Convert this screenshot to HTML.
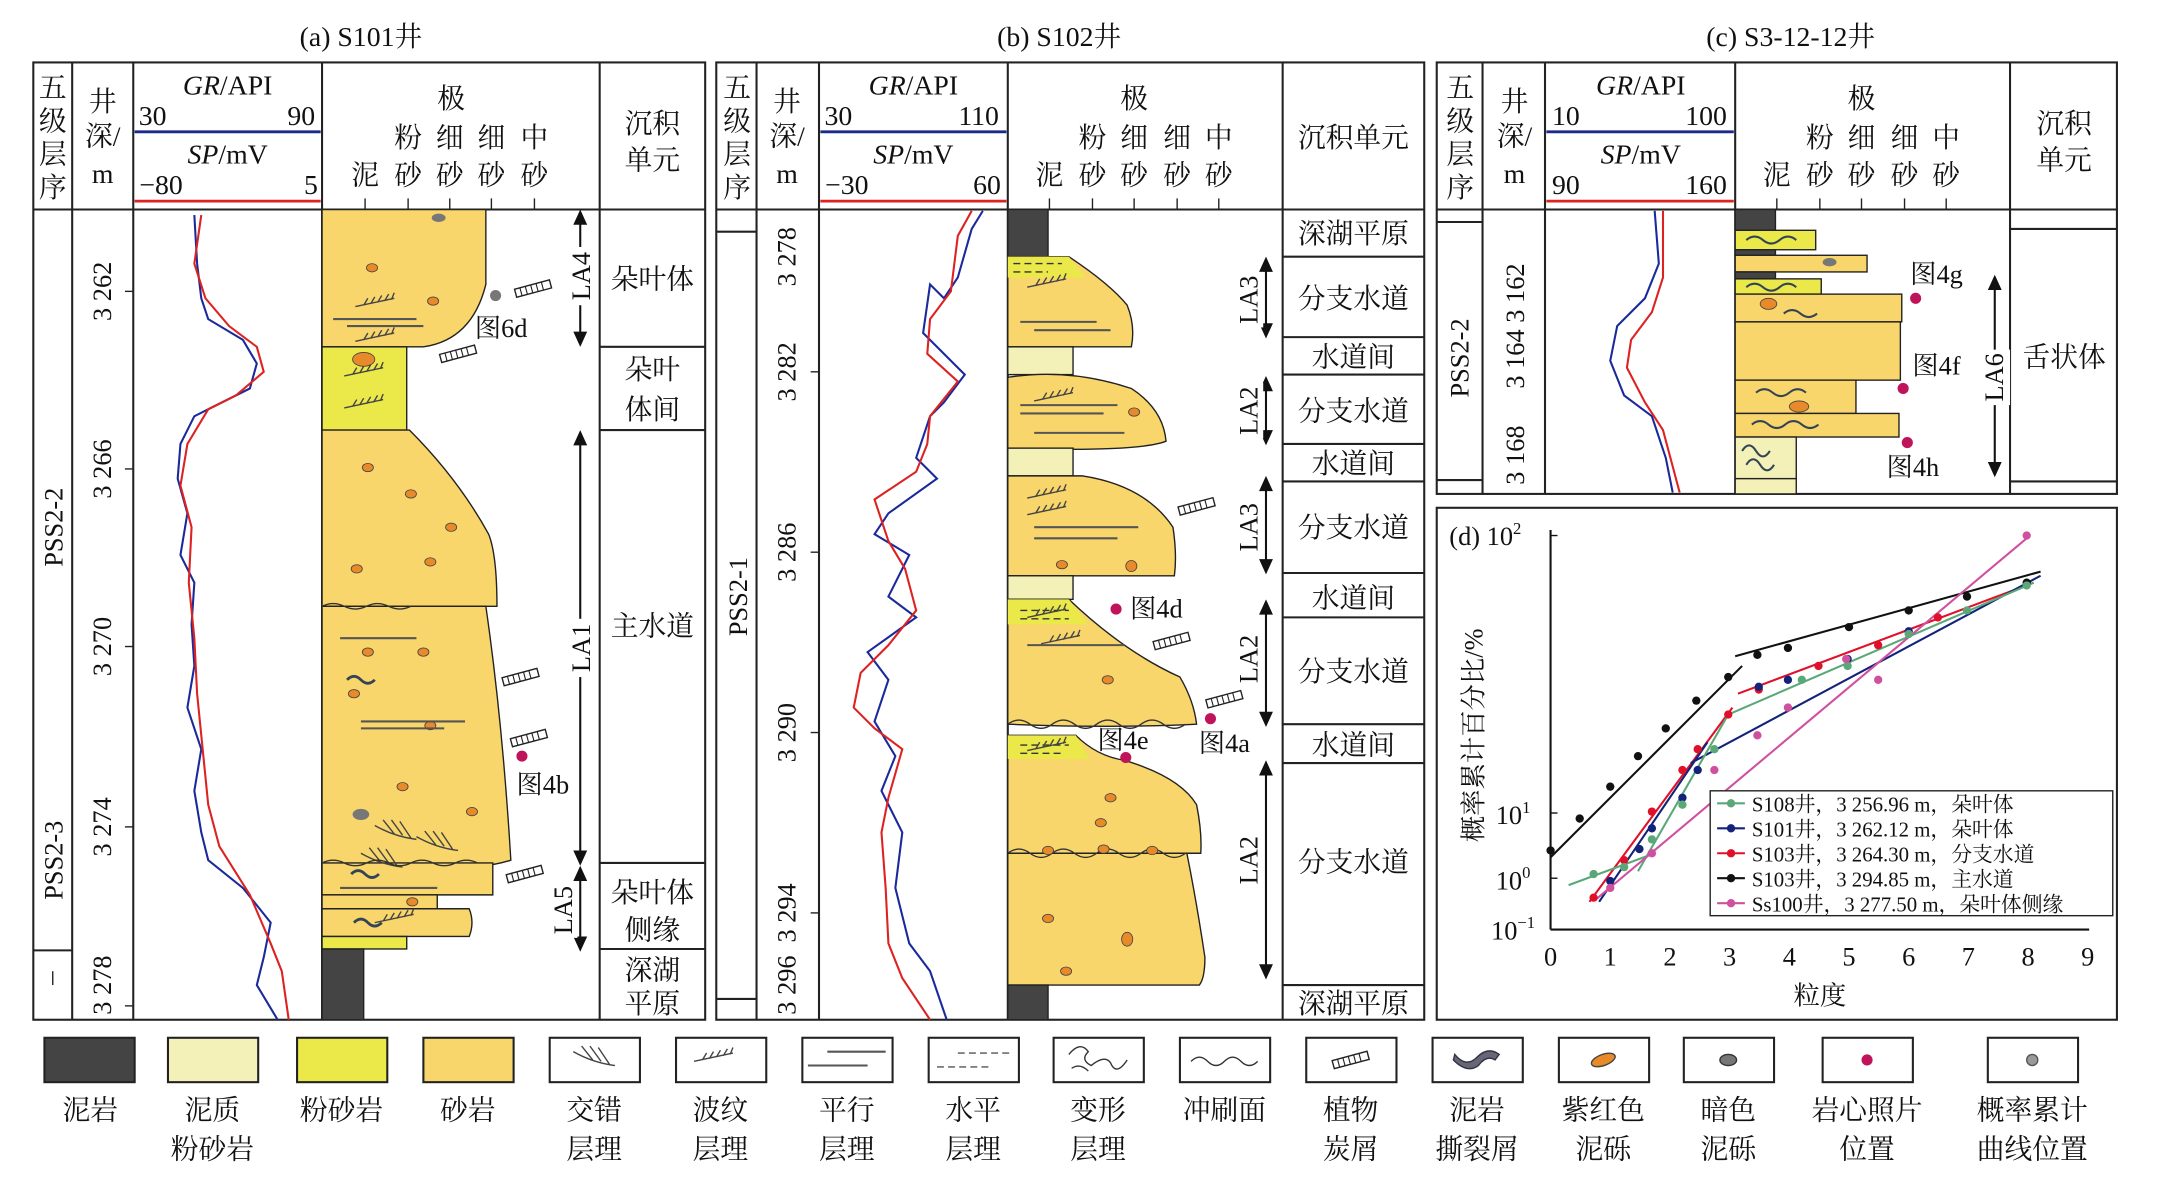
<!DOCTYPE html>
<html><head><meta charset="utf-8"><style>
html,body{margin:0;padding:0;background:#fff}
svg{display:block}
text{font-family:"Liberation Serif","Noto Serif CJK SC",serif;fill:#111}
</style></head><body>
<svg width="2178" height="1189" viewBox="0 0 1569 857" preserveAspectRatio="none" xmlns="http://www.w3.org/2000/svg">
<defs>
<g id="plant"><g transform="rotate(-15)"><rect x="-13" y="-3" width="26" height="6" fill="#fff" stroke="#222" stroke-width="1"/><path d="M-9,-3v6M-5,-3v6M-1,-3v6M3,-3v6M7,-3v6" stroke="#222" stroke-width="0.8"/></g></g>
<g id="ripple"><path d="M0,6 L28,0 M6,5 l3,-5 M11,4 l3,-5 M16,3 l3,-5 M21,2 l3,-5 M26,1 l2,-5" stroke="#444" stroke-width="1" fill="none" transform="translate(0,3)"/></g>
<g id="cross"><path d="M0,0 Q14,8 30,10 M6,-4 l8,10 M12,-4 l8,11 M18,-3 l8,12" stroke="#444" stroke-width="1" fill="none"/></g>
</defs>
<rect width="1569" height="857" fill="#fff"/>
<g font-size="20" text-anchor="middle">
<text x="260" y="33">(a) S101井</text>
<text x="763" y="33">(b) S102井</text>
<text x="1290" y="33">(c) S3-12-12井</text>
</g>

<!-- ===== Panel A ===== -->
<g stroke="#222" stroke-width="1.5" fill="none">
<rect x="24" y="45" width="484" height="690"/>
<line x1="24" y1="151" x2="508" y2="151"/>
<line x1="52" y1="45" x2="52" y2="735"/><line x1="96" y1="45" x2="96" y2="735"/>
<line x1="232" y1="45" x2="232" y2="735"/><line x1="432" y1="45" x2="432" y2="735"/>
<line x1="24" y1="685" x2="52" y2="685"/>
<line x1="432" y1="250" x2="508" y2="250"/><line x1="432" y1="310" x2="508" y2="310"/>
<line x1="432" y1="622" x2="508" y2="622"/><line x1="432" y1="684" x2="508" y2="684"/>
</g>
<line x1="97" y1="95" x2="231" y2="95" stroke="#1a2a8a" stroke-width="2"/>
<line x1="97" y1="145" x2="231" y2="145" stroke="#d22" stroke-width="2"/>
<g font-size="20" text-anchor="middle">
<text x="38" y="70">五</text><text x="38" y="94">级</text><text x="38" y="118">层</text><text x="38" y="142">序</text>
<text x="74" y="80">井</text><text x="74" y="105">深/</text><text x="74" y="132">m</text>
<text x="164" y="68"><tspan font-style="italic">GR</tspan>/API</text>
<text x="110" y="90">30</text><text x="217" y="90">90</text>
<text x="164" y="118"><tspan font-style="italic">SP</tspan>/mV</text>
<text x="116" y="140">−80</text><text x="224" y="140">5</text>
<text x="325" y="78">极</text>
<text x="294" y="106">粉</text><text x="324" y="106">细</text><text x="354" y="106">细</text><text x="385" y="106">中</text>
<text x="263" y="133">泥</text><text x="294" y="133">砂</text><text x="324" y="133">砂</text><text x="354" y="133">砂</text><text x="385" y="133">砂</text>
<text x="470" y="96">沉积</text><text x="470" y="122">单元</text>
<text x="470" y="208">朵叶体</text>
<text x="470" y="273">朵叶</text><text x="470" y="302">体间</text>
<text x="470" y="458">主水道</text>
<text x="470" y="650">朵叶体</text><text x="470" y="677">侧缘</text>
<text x="470" y="706">深湖</text><text x="470" y="730">平原</text>
</g>
<g stroke="#222" stroke-width="1"><line x1="263" y1="143" x2="263" y2="151"/><line x1="294" y1="143" x2="294" y2="151"/><line x1="324" y1="143" x2="324" y2="151"/><line x1="354" y1="143" x2="354" y2="151"/><line x1="385" y1="143" x2="385" y2="151"/></g>
<g font-size="19" text-anchor="middle">
<text transform="translate(45,380) rotate(-90)">PSS2-2</text>
<text transform="translate(45,620) rotate(-90)">PSS2-3</text>
<text transform="translate(80,210) rotate(-90)">3 262</text>
<text transform="translate(80,338) rotate(-90)">3 266</text>
<text transform="translate(80,466) rotate(-90)">3 270</text>
<text transform="translate(80,596) rotate(-90)">3 274</text>
<text transform="translate(80,710) rotate(-90)">3 278</text>
</g>
<g stroke="#222"><line x1="90" y1="210" x2="96" y2="210"/><line x1="90" y1="338" x2="96" y2="338"/><line x1="90" y1="466" x2="96" y2="466"/><line x1="90" y1="596" x2="96" y2="596"/><line x1="90" y1="725" x2="96" y2="725"/><line x1="38" y1="700" x2="38" y2="710"/></g>
<polyline fill="none" stroke="#1a2a9a" stroke-width="1.5" points="140,155 142,190 145,215 150,230 175,245 185,262 180,280 160,290 140,300 130,320 128,345 135,370 130,400 140,420 138,450 140,480 135,510 145,540 140,570 145,600 150,620 175,640 195,665 190,690 185,710 200,735"/>
<polyline fill="none" stroke="#d22" stroke-width="1.5" points="145,155 140,190 148,215 165,235 185,250 190,268 170,285 150,295 135,320 130,350 138,380 136,420 140,460 142,500 146,540 150,580 158,610 180,645 195,680 203,700 208,735"/>
<g stroke="#222" stroke-width="1">
<path d="M232,151 H350 V205 Q340,245 305,250 H232Z" fill="#f9d66b"/>
<rect x="232" y="250" width="61" height="60" fill="#ebe84a"/>
<path d="M232,310 H295 Q330,345 352,385 Q358,400 358,437 H232Z" fill="#f9d66b"/>
<path d="M232,437 H350 Q362,520 368,620 Q330,632 232,622Z" fill="#f9d66b"/>
<path d="M232,622 H355 V645 H232Z" fill="#f9d66b"/>
<rect x="232" y="645" width="83" height="10" fill="#f9d66b"/>
<path d="M232,655 H338 Q342,665 338,675 H232Z" fill="#f9d66b"/>
<rect x="232" y="675" width="61" height="9" fill="#ebe84a"/>
<rect x="232" y="684" width="30" height="51" fill="#444"/>
</g>
<g fill="#e88a2a" stroke="#444" stroke-width="0.6">
<ellipse cx="268" cy="193" rx="4" ry="3"/><ellipse cx="312" cy="217" rx="4" ry="3"/><ellipse cx="262" cy="259" rx="8" ry="5"/>
<ellipse cx="265" cy="337" rx="4" ry="3"/><ellipse cx="296" cy="356" rx="4" ry="3"/><ellipse cx="325" cy="380" rx="4" ry="3"/><ellipse cx="257" cy="410" rx="4" ry="3"/><ellipse cx="310" cy="405" rx="4" ry="3"/>
<ellipse cx="265" cy="470" rx="4" ry="3"/><ellipse cx="305" cy="470" rx="4" ry="3"/><ellipse cx="255" cy="500" rx="4" ry="3"/><ellipse cx="310" cy="523" rx="4" ry="3"/><ellipse cx="290" cy="567" rx="4" ry="3"/><ellipse cx="340" cy="585" rx="4" ry="3"/>
<ellipse cx="297" cy="650" rx="4" ry="3"/>
</g>
<g fill="#777"><ellipse cx="316" cy="157" rx="5" ry="3"/><ellipse cx="260" cy="587" rx="6" ry="4"/><circle cx="357" cy="213" r="4"/></g>
<use href="#ripple" x="256" y="212"/><use href="#ripple" x="256" y="237"/><use href="#ripple" x="248" y="262"/><use href="#ripple" x="248" y="285"/>
<use href="#ripple" x="270" y="656"/>
<g stroke="#555" stroke-width="1.5"><line x1="240" y1="230" x2="300" y2="230"/><line x1="250" y1="235" x2="305" y2="235"/><line x1="245" y1="460" x2="300" y2="460"/><line x1="260" y1="520" x2="335" y2="520"/><line x1="260" y1="525" x2="320" y2="525"/><line x1="245" y1="640" x2="315" y2="640"/></g>
<use href="#cross" x="270" y="595"/><use href="#cross" x="300" y="603"/><use href="#cross" x="260" y="615"/>
<path d="M232,437 q8,-4 16,0 t16,0 t16,0 t16,0 M232,622 q8,-4 16,0 t16,0 t16,0 t16,0 t16,0 t16,0 t16,0" stroke="#333" fill="none"/>
<path d="M250,490 q5,-5 10,0 t10,0 M253,630 q5,-5 10,0 t10,0 M255,665 q5,-5 10,0 t10,0" stroke="#345" stroke-width="2" fill="none"/>
<use href="#plant" x="384" y="208"/><use href="#plant" x="330" y="255"/><use href="#plant" x="375" y="488"/><use href="#plant" x="381" y="532"/><use href="#plant" x="378" y="630"/>
<circle cx="376" cy="545" r="4" fill="#c0145a"/>
<g font-size="19" text-anchor="middle"><text x="361" y="243">图6d</text><text x="391" y="572">图4b</text></g>
<g stroke="#111" stroke-width="1.5"><line x1="418" y1="158" x2="418" y2="243"/><line x1="418" y1="316" x2="418" y2="618"/><line x1="418" y1="630" x2="418" y2="680"/></g>
<g fill="#111"><path d="M418,151 l-5,11 h10z M418,250 l-5,-11 h10z M418,310 l-5,11 h10z M418,624 l-5,-11 h10z M418,624 l-5,11 h10z M418,686 l-5,-11 h10z"/></g>
<g font-size="19" text-anchor="middle">
<rect x="408" y="178" width="20" height="42" fill="#fff"/><text transform="translate(425,199) rotate(-90)">LA4</text>
<rect x="408" y="446" width="20" height="42" fill="#fff"/><text transform="translate(425,467) rotate(-90)">LA1</text>
<rect x="396" y="636" width="20" height="40" fill="#fff"/><text transform="translate(412,656) rotate(-90)">LA5</text>
</g>

<!-- ===== Panel B ===== -->
<g stroke="#222" stroke-width="1.5" fill="none">
<rect x="516" y="45" width="510" height="690"/>
<line x1="516" y1="151" x2="1026" y2="151"/>
<line x1="545" y1="45" x2="545" y2="735"/><line x1="590" y1="45" x2="590" y2="735"/>
<line x1="726" y1="45" x2="726" y2="735"/><line x1="924" y1="45" x2="924" y2="735"/>
<line x1="516" y1="167" x2="545" y2="167"/><line x1="516" y1="720" x2="545" y2="720"/>
<line x1="924" y1="185" x2="1026" y2="185"/><line x1="924" y1="243" x2="1026" y2="243"/><line x1="924" y1="270" x2="1026" y2="270"/>
<line x1="924" y1="320" x2="1026" y2="320"/><line x1="924" y1="347" x2="1026" y2="347"/><line x1="924" y1="413" x2="1026" y2="413"/>
<line x1="924" y1="445" x2="1026" y2="445"/><line x1="924" y1="522" x2="1026" y2="522"/><line x1="924" y1="550" x2="1026" y2="550"/>
<line x1="924" y1="710" x2="1026" y2="710"/>
</g>
<line x1="591" y1="95" x2="725" y2="95" stroke="#1a2a8a" stroke-width="2"/>
<line x1="591" y1="145" x2="725" y2="145" stroke="#d22" stroke-width="2"/>
<g font-size="20" text-anchor="middle">
<text x="531" y="70">五</text><text x="531" y="94">级</text><text x="531" y="118">层</text><text x="531" y="142">序</text>
<text x="567" y="80">井</text><text x="567" y="105">深/</text><text x="567" y="132">m</text>
<text x="658" y="68"><tspan font-style="italic">GR</tspan>/API</text>
<text x="604" y="90">30</text><text x="705" y="90">110</text>
<text x="658" y="118"><tspan font-style="italic">SP</tspan>/mV</text>
<text x="610" y="140">−30</text><text x="711" y="140">60</text>
<text x="817" y="78">极</text>
<text x="787" y="106">粉</text><text x="817" y="106">细</text><text x="848" y="106">细</text><text x="878" y="106">中</text>
<text x="756" y="133">泥</text><text x="787" y="133">砂</text><text x="817" y="133">砂</text><text x="848" y="133">砂</text><text x="878" y="133">砂</text>
<text x="975" y="106">沉积单元</text>
<text x="975" y="175">深湖平原</text><text x="975" y="222">分支水道</text><text x="975" y="264">水道间</text>
<text x="975" y="303">分支水道</text><text x="975" y="341">水道间</text><text x="975" y="387">分支水道</text>
<text x="975" y="438">水道间</text><text x="975" y="491">分支水道</text><text x="975" y="544">水道间</text>
<text x="975" y="628">分支水道</text><text x="975" y="730">深湖平原</text>
</g>
<g stroke="#222" stroke-width="1"><line x1="756" y1="143" x2="756" y2="151"/><line x1="787" y1="143" x2="787" y2="151"/><line x1="817" y1="143" x2="817" y2="151"/><line x1="848" y1="143" x2="848" y2="151"/><line x1="878" y1="143" x2="878" y2="151"/>
<line x1="584" y1="268" x2="590" y2="268"/><line x1="584" y1="398" x2="590" y2="398"/><line x1="584" y1="528" x2="590" y2="528"/><line x1="584" y1="658" x2="590" y2="658"/></g>
<g font-size="19" text-anchor="middle">
<text transform="translate(538,430) rotate(-90)">PSS2-1</text>
<text transform="translate(573,185) rotate(-90)">3 278</text>
<text transform="translate(573,268) rotate(-90)">3 282</text>
<text transform="translate(573,398) rotate(-90)">3 286</text>
<text transform="translate(573,528) rotate(-90)">3 290</text>
<text transform="translate(573,658) rotate(-90)">3 294</text>
<text transform="translate(573,710) rotate(-90)">3 296</text>
</g>
<polyline fill="none" stroke="#1a2a9a" stroke-width="1.5" points="708,152 700,165 690,200 680,215 670,205 665,240 695,270 680,290 670,300 660,330 675,345 640,370 630,385 655,400 640,430 660,445 625,470 640,490 630,520 645,545 635,570 650,600 645,640 655,680 670,700 682,735"/>
<polyline fill="none" stroke="#d22" stroke-width="1.5" points="700,152 690,170 685,210 670,230 668,255 690,275 670,300 668,320 660,340 630,360 640,390 652,410 660,440 640,465 620,485 615,510 630,525 650,540 640,575 635,600 638,640 640,680 650,705 670,735"/>
<g stroke="#222" stroke-width="1">
<rect x="726" y="151" width="29" height="34" fill="#444"/>
<path d="M726,185 H770 Q800,205 812,220 Q818,235 815,250 H726Z" fill="#f9d66b"/>
<path d="M726,185 H770 L782,200 H726Z" fill="#ebe84a" stroke="none"/>
<rect x="726" y="250" width="47" height="20" fill="#f3f0b8"/>
<path d="M726,272 Q770,265 815,280 Q838,295 840,318 Q820,326 726,323Z" fill="#f9d66b"/>
<rect x="726" y="323" width="47" height="20" fill="#f3f0b8"/>
<path d="M726,343 H780 Q825,350 845,380 Q848,400 846,415 H726Z" fill="#f9d66b"/>
<rect x="726" y="415" width="47" height="17" fill="#f3f0b8"/>
<path d="M726,432 H770 Q810,470 850,488 Q860,505 862,522 Q800,525 726,522Z" fill="#f9d66b"/>
<path d="M726,432 H770 L784,450 H726Z" fill="#ebe84a" stroke="none"/>
<path d="M726,530 H775 Q790,545 810,548 Q850,560 862,580 Q866,600 865,615 H726Z" fill="#f9d66b"/>
<path d="M726,530 H775 L785,547 H726Z" fill="#ebe84a" stroke="none"/>
<path d="M726,615 H855 Q862,650 868,690 Q868,705 864,710 H726Z" fill="#f9d66b"/>
<rect x="726" y="710" width="29" height="25" fill="#444"/>
</g>
<g stroke="#333" stroke-dasharray="5,3"><line x1="730" y1="190" x2="765" y2="190"/><line x1="730" y1="196" x2="755" y2="196"/><line x1="735" y1="440" x2="770" y2="440"/><line x1="735" y1="446" x2="770" y2="446"/><line x1="735" y1="537" x2="770" y2="537"/><line x1="735" y1="543" x2="765" y2="543"/></g>
<use href="#ripple" x="740" y="198"/><use href="#ripple" x="745" y="280"/><use href="#ripple" x="740" y="350"/><use href="#ripple" x="740" y="362"/><use href="#ripple" x="740" y="436"/><use href="#ripple" x="750" y="455"/><use href="#ripple" x="740" y="532"/>
<g stroke="#555" stroke-width="1.5"><line x1="735" y1="232" x2="790" y2="232"/><line x1="745" y1="238" x2="800" y2="238"/><line x1="735" y1="292" x2="805" y2="292"/><line x1="735" y1="298" x2="795" y2="298"/><line x1="745" y1="312" x2="810" y2="312"/><line x1="745" y1="380" x2="820" y2="380"/><line x1="745" y1="388" x2="805" y2="388"/><line x1="740" y1="465" x2="810" y2="465"/></g>
<path d="M726,522 q8,-6 16,0 t16,0 t16,0 t16,0 t16,0 t16,0 t16,0 t16,0 M726,615 q8,-6 16,0 t16,0 t16,0 t16,0 t16,0 t16,0 t16,0 t16,0" stroke="#333" fill="none"/>
<g fill="#e88a2a" stroke="#444" stroke-width="0.6">
<ellipse cx="817" cy="297" rx="4" ry="3"/><ellipse cx="765" cy="407" rx="4" ry="3"/><ellipse cx="815" cy="408" rx="4" ry="4"/>
<ellipse cx="798" cy="490" rx="4" ry="3"/><ellipse cx="800" cy="575" rx="4" ry="3"/><ellipse cx="793" cy="593" rx="4" ry="3"/><ellipse cx="755" cy="613" rx="4" ry="3"/><ellipse cx="795" cy="612" rx="4" ry="3"/><ellipse cx="830" cy="613" rx="4" ry="3"/>
<ellipse cx="755" cy="662" rx="4" ry="3"/><ellipse cx="812" cy="677" rx="4" ry="5"/><ellipse cx="768" cy="700" rx="4" ry="3"/>
</g>
<use href="#plant" x="862" y="365"/><use href="#plant" x="844" y="462"/><use href="#plant" x="882" y="504"/>
<g fill="#c0145a"><circle cx="804" cy="439" r="4"/><circle cx="872" cy="518" r="4"/><circle cx="811" cy="546" r="4"/></g>
<g font-size="19" text-anchor="middle"><text x="833" y="445">图4d</text><text x="809" y="540">图4e</text><text x="882" y="542">图4a</text></g>
<g stroke="#111" stroke-width="1.5"><line x1="912" y1="192" x2="912" y2="237"/><line x1="912" y1="278" x2="912" y2="315"/><line x1="912" y1="350" x2="912" y2="408"/><line x1="912" y1="440" x2="912" y2="518"/><line x1="912" y1="555" x2="912" y2="700"/></g>
<g fill="#111"><path d="M912,185 l-5,11 h10z M912,244 l-5,-11 h10z M912,271 l-5,11 h10z M912,321 l-5,-11 h10z M912,343 l-5,11 h10z M912,414 l-5,-11 h10z M912,432 l-5,11 h10z M912,524 l-5,-11 h10z M912,548 l-5,11 h10z M912,706 l-5,-11 h10z"/></g>
<g font-size="19" text-anchor="middle">
<rect x="888" y="196" width="22" height="40" fill="#fff"/><text transform="translate(906,216) rotate(-90)">LA3</text>
<rect x="888" y="276" width="22" height="40" fill="#fff"/><text transform="translate(906,296) rotate(-90)">LA2</text>
<rect x="888" y="360" width="22" height="40" fill="#fff"/><text transform="translate(906,380) rotate(-90)">LA3</text>
<rect x="888" y="455" width="22" height="40" fill="#fff"/><text transform="translate(906,475) rotate(-90)">LA2</text>
<rect x="888" y="600" width="22" height="40" fill="#fff"/><text transform="translate(906,620) rotate(-90)">LA2</text>
</g>

<!-- ===== Panel C ===== -->
<g stroke="#222" stroke-width="1.5" fill="none">
<rect x="1035" y="45" width="490" height="311"/>
<line x1="1035" y1="151" x2="1525" y2="151"/>
<line x1="1068" y1="45" x2="1068" y2="356"/><line x1="1113" y1="45" x2="1113" y2="356"/>
<line x1="1250" y1="45" x2="1250" y2="356"/><line x1="1448" y1="45" x2="1448" y2="356"/>
<line x1="1035" y1="160" x2="1068" y2="160"/><line x1="1035" y1="346" x2="1068" y2="346"/>
<line x1="1448" y1="165" x2="1525" y2="165"/><line x1="1448" y1="347" x2="1525" y2="347"/>
</g>
<line x1="1114" y1="95" x2="1249" y2="95" stroke="#1a2a8a" stroke-width="2"/>
<line x1="1114" y1="145" x2="1249" y2="145" stroke="#d22" stroke-width="2"/>
<g font-size="20" text-anchor="middle">
<text x="1052" y="70">五</text><text x="1052" y="94">级</text><text x="1052" y="118">层</text><text x="1052" y="142">序</text>
<text x="1091" y="80">井</text><text x="1091" y="105">深/</text><text x="1091" y="132">m</text>
<text x="1182" y="68"><tspan font-style="italic">GR</tspan>/API</text>
<text x="1128" y="90">10</text><text x="1229" y="90">100</text>
<text x="1182" y="118"><tspan font-style="italic">SP</tspan>/mV</text>
<text x="1128" y="140">90</text><text x="1229" y="140">160</text>
<text x="1341" y="78">极</text>
<text x="1311" y="106">粉</text><text x="1341" y="106">细</text><text x="1372" y="106">细</text><text x="1402" y="106">中</text>
<text x="1280" y="133">泥</text><text x="1311" y="133">砂</text><text x="1341" y="133">砂</text><text x="1372" y="133">砂</text><text x="1402" y="133">砂</text>
<text x="1487" y="96">沉积</text><text x="1487" y="122">单元</text>
<text x="1487" y="264">舌状体</text>
</g>
<g stroke="#222" stroke-width="1"><line x1="1280" y1="143" x2="1280" y2="151"/><line x1="1311" y1="143" x2="1311" y2="151"/><line x1="1341" y1="143" x2="1341" y2="151"/><line x1="1372" y1="143" x2="1372" y2="151"/><line x1="1402" y1="143" x2="1402" y2="151"/></g>
<g font-size="19" text-anchor="middle">
<text transform="translate(1058,258) rotate(-90)">PSS2-2</text>
<text transform="translate(1098,235) rotate(-90)">3 164 3 162</text>
<text transform="translate(1098,328) rotate(-90)">3 168</text>
</g>
<polyline fill="none" stroke="#1a2a9a" stroke-width="1.5" points="1192,152 1195,190 1185,215 1165,235 1160,260 1170,285 1190,300 1200,330 1205,355"/>
<polyline fill="none" stroke="#d22" stroke-width="1.5" points="1198,152 1198,200 1190,225 1175,245 1172,265 1185,290 1198,310 1210,355"/>
<g stroke="#222" stroke-width="1">
<rect x="1250" y="151" width="29" height="15" fill="#444"/>
<rect x="1250" y="166" width="58" height="14" fill="#ebe84a"/>
<rect x="1250" y="180" width="29" height="4" fill="#444"/>
<rect x="1250" y="184" width="95" height="12" fill="#f9d66b"/>
<rect x="1250" y="196" width="29" height="5" fill="#444"/>
<rect x="1250" y="201" width="62" height="11" fill="#ebe84a"/>
<rect x="1250" y="212" width="120" height="20" fill="#f9d66b"/>
<rect x="1250" y="232" width="119" height="42" fill="#f9d66b"/>
<rect x="1250" y="274" width="87" height="24" fill="#f9d66b"/>
<rect x="1250" y="298" width="118" height="17" fill="#f9d66b"/>
<rect x="1250" y="315" width="44" height="30" fill="#f3f0b8"/>
<rect x="1250" y="345" width="44" height="11" fill="#f3f0b8"/>
</g>
<g stroke="#345" stroke-width="1.5" fill="none"><path d="M1258,173 q6,-5 12,0 t12,0 t12,0 M1258,207 q6,-5 12,0 t12,0 t12,0 M1285,226 q6,-5 12,0 t12,0 M1265,283 q6,-5 12,0 t12,0 t12,0 M1262,306 q6,-5 12,0 t12,0 t12,0 t12,0 M1255,325 q5,-8 10,0 t10,0 M1258,335 q5,-8 10,0 t10,0"/></g>
<g fill="#e88a2a" stroke="#444" stroke-width="0.6"><ellipse cx="1274" cy="219" rx="6" ry="4"/><ellipse cx="1296" cy="293" rx="7" ry="4"/></g>
<ellipse cx="1318" cy="189" rx="5" ry="3" fill="#777"/>
<g fill="#c0145a"><circle cx="1380" cy="215" r="4"/><circle cx="1371" cy="280" r="4"/><circle cx="1374" cy="319" r="4"/></g>
<g font-size="19" text-anchor="middle"><text x="1395" y="204">图4g</text><text x="1395" y="270">图4f</text><text x="1378" y="343">图4h</text></g>
<line x1="1437" y1="205" x2="1437" y2="337" stroke="#111" stroke-width="1.5"/>
<path d="M1437,198 l-5,11 h10z M1437,344 l-5,-11 h10z" fill="#111"/>
<rect x="1426" y="252" width="22" height="40" fill="#fff"/><text font-size="19" text-anchor="middle" transform="translate(1443,272) rotate(-90)">LA6</text>

<!-- ===== Panel D ===== -->
<rect x="1035" y="366" width="490" height="369" fill="none" stroke="#222" stroke-width="1.5"/>
<g stroke="#111" stroke-width="1.5"><line x1="1117" y1="382" x2="1117" y2="670"/><line x1="1117" y1="670" x2="1505" y2="670"/></g>
<g stroke="#111"><line x1="1117" y1="386" x2="1122" y2="386"/><line x1="1117" y1="586" x2="1122" y2="586"/><line x1="1117" y1="633" x2="1122" y2="633"/></g>
<g font-size="19" text-anchor="middle">
<text x="1070" y="393">(d) 10<tspan font-size="12" dy="-8">2</tspan></text>
<text x="1090" y="594">10<tspan font-size="12" dy="-8">1</tspan></text>
<text x="1090" y="641">10<tspan font-size="12" dy="-8">0</tspan></text>
<text x="1090" y="677">10<tspan font-size="12" dy="-8">−1</tspan></text>
<text x="1117" y="696">0</text><text x="1160" y="696">1</text><text x="1203" y="696">2</text><text x="1246" y="696">3</text><text x="1289" y="696">4</text><text x="1332" y="696">5</text><text x="1375" y="696">6</text><text x="1418" y="696">7</text><text x="1461" y="696">8</text><text x="1504" y="696">9</text>
<text x="1311" y="724">粒度</text>
<text transform="translate(1068,530) rotate(-90)">概率累计百分比/%</text>
</g>
<g fill="none" stroke-width="1.5">
<path d="M1117,618 L1255,480 M1250,473 L1470,412" stroke="#111"/>
<path d="M1145,650 L1248,510 M1252,500 L1465,420" stroke="#e0102a"/>
<path d="M1152,650 L1230,535 M1218,550 L1470,415" stroke="#13237a"/>
<path d="M1130,638 L1192,615 M1180,628 L1245,515 L1465,420" stroke="#5aa878"/>
<path d="M1150,648 L1460,388" stroke="#d050a0"/>
</g>
<g fill="#111"><circle cx="1117" cy="613" r="3"/><circle cx="1138" cy="590" r="3"/><circle cx="1160" cy="567" r="3"/><circle cx="1180" cy="545" r="3"/><circle cx="1200" cy="525" r="3"/><circle cx="1222" cy="505" r="3"/><circle cx="1245" cy="488" r="3"/><circle cx="1266" cy="472" r="3"/><circle cx="1288" cy="467" r="3"/><circle cx="1332" cy="452" r="3"/><circle cx="1375" cy="440" r="3"/><circle cx="1417" cy="430" r="3"/><circle cx="1460" cy="420" r="3"/></g>
<g fill="#e0102a"><circle cx="1148" cy="647" r="3"/><circle cx="1170" cy="620" r="3"/><circle cx="1190" cy="585" r="3"/><circle cx="1212" cy="555" r="3"/><circle cx="1223" cy="540" r="3"/><circle cx="1245" cy="515" r="3"/><circle cx="1267" cy="497" r="3"/><circle cx="1310" cy="480" r="3"/><circle cx="1353" cy="465" r="3"/><circle cx="1396" cy="445" r="3"/></g>
<g fill="#13237a"><circle cx="1160" cy="635" r="3"/><circle cx="1181" cy="612" r="3"/><circle cx="1190" cy="597" r="3"/><circle cx="1212" cy="575" r="3"/><circle cx="1223" cy="555" r="3"/><circle cx="1267" cy="495" r="3"/><circle cx="1288" cy="490" r="3"/><circle cx="1331" cy="475" r="3"/><circle cx="1375" cy="455" r="3"/></g>
<g fill="#5aa878"><circle cx="1148" cy="630" r="3"/><circle cx="1170" cy="625" r="3"/><circle cx="1190" cy="605" r="3"/><circle cx="1212" cy="580" r="3"/><circle cx="1235" cy="540" r="3"/><circle cx="1298" cy="490" r="3"/><circle cx="1331" cy="480" r="3"/><circle cx="1375" cy="457" r="3"/><circle cx="1417" cy="440" r="3"/><circle cx="1460" cy="422" r="3"/></g>
<g fill="#d050a0"><circle cx="1160" cy="640" r="3"/><circle cx="1190" cy="615" r="3"/><circle cx="1235" cy="555" r="3"/><circle cx="1266" cy="530" r="3"/><circle cx="1288" cy="510" r="3"/><circle cx="1330" cy="475" r="3"/><circle cx="1353" cy="490" r="3"/><circle cx="1460" cy="386" r="3"/></g>
<rect x="1232" y="570" width="290" height="90" fill="#fff" stroke="#222"/>
<g stroke-width="1.5"><line x1="1237" y1="579" x2="1257" y2="579" stroke="#5aa878"/><line x1="1237" y1="597" x2="1257" y2="597" stroke="#13237a"/><line x1="1237" y1="615" x2="1257" y2="615" stroke="#e0102a"/><line x1="1237" y1="633" x2="1257" y2="633" stroke="#111"/><line x1="1237" y1="651" x2="1257" y2="651" stroke="#d050a0"/></g>
<g><circle cx="1247" cy="579" r="3" fill="#5aa878"/><circle cx="1247" cy="597" r="3" fill="#13237a"/><circle cx="1247" cy="615" r="3" fill="#e0102a"/><circle cx="1247" cy="633" r="3" fill="#111"/><circle cx="1247" cy="651" r="3" fill="#d050a0"/></g>
<g font-size="15">
<text x="1262" y="585">S108井，3 256.96 m，朵叶体</text>
<text x="1262" y="603">S101井，3 262.12 m，朵叶体</text>
<text x="1262" y="621">S103井，3 264.30 m，分支水道</text>
<text x="1262" y="639">S103井，3 294.85 m，主水道</text>
<text x="1262" y="657">Ss100井，3 277.50 m，朵叶体侧缘</text>
</g>

<!-- ===== Legend ===== -->
<g stroke="#222" stroke-width="1.5">
<rect x="32" y="748" width="65" height="32" fill="#444"/>
<rect x="121" y="748" width="65" height="32" fill="#f3f0b8"/>
<rect x="214" y="748" width="65" height="32" fill="#ebe84a"/>
<rect x="305" y="748" width="65" height="32" fill="#f9d66b"/>
<rect x="396" y="748" width="65" height="32" fill="#fff"/>
<rect x="487" y="748" width="65" height="32" fill="#fff"/>
<rect x="578" y="748" width="65" height="32" fill="#fff"/>
<rect x="669" y="748" width="65" height="32" fill="#fff"/>
<rect x="759" y="748" width="65" height="32" fill="#fff"/>
<rect x="850" y="748" width="65" height="32" fill="#fff"/>
<rect x="941" y="748" width="65" height="32" fill="#fff"/>
<rect x="1032" y="748" width="65" height="32" fill="#fff"/>
<rect x="1123" y="748" width="65" height="32" fill="#fff"/>
<rect x="1213" y="748" width="65" height="32" fill="#fff"/>
<rect x="1313" y="748" width="65" height="32" fill="#fff"/>
<rect x="1432" y="748" width="65" height="32" fill="#fff"/>
</g>
<use href="#cross" x="413" y="758"/>
<use href="#ripple" x="500" y="756"/>
<g stroke="#555" stroke-width="1.5"><line x1="596" y1="758" x2="638" y2="758"/><line x1="582" y1="768" x2="625" y2="768"/></g>
<g stroke="#555" stroke-dasharray="5,3"><line x1="690" y1="759" x2="730" y2="759"/><line x1="675" y1="769" x2="715" y2="769"/></g>
<path d="M770,760 q8,-10 14,-2 q-6,6 2,10 q10,-8 14,-2 q4,10 12,-2 M772,770 q6,-4 12,2" stroke="#333" fill="none"/>
<path d="M858,765 q6,-6 12,0 t12,0 t12,0 t12,0" stroke="#333" fill="none"/>
<use href="#plant" x="973" y="764"/>
<path d="M1048,760 q8,10 16,2 q8,-8 16,-2 l-3,4 q-6,-4 -12,4 q-8,6 -18,-4z" fill="#667" stroke="#334"/>
<ellipse cx="1155" cy="764" rx="9" ry="4" fill="#e88a2a" stroke="#444" transform="rotate(-20 1155 764)"/>
<ellipse cx="1245" cy="764" rx="6" ry="4" fill="#777" stroke="#333"/>
<circle cx="1345" cy="764" r="4" fill="#c0145a"/>
<circle cx="1464" cy="764" r="4" fill="#999" stroke="#555"/>
<g font-size="20" text-anchor="middle">
<text x="65" y="807">泥岩</text>
<text x="153" y="807">泥质</text><text x="153" y="835">粉砂岩</text>
<text x="246" y="807">粉砂岩</text>
<text x="337" y="807">砂岩</text>
<text x="428" y="807">交错</text><text x="428" y="835">层理</text>
<text x="519" y="807">波纹</text><text x="519" y="835">层理</text>
<text x="610" y="807">平行</text><text x="610" y="835">层理</text>
<text x="701" y="807">水平</text><text x="701" y="835">层理</text>
<text x="791" y="807">变形</text><text x="791" y="835">层理</text>
<text x="882" y="807">冲刷面</text>
<text x="973" y="807">植物</text><text x="973" y="835">炭屑</text>
<text x="1064" y="807">泥岩</text><text x="1064" y="835">撕裂屑</text>
<text x="1155" y="807">紫红色</text><text x="1155" y="835">泥砾</text>
<text x="1245" y="807">暗色</text><text x="1245" y="835">泥砾</text>
<text x="1345" y="807">岩心照片</text><text x="1345" y="835">位置</text>
<text x="1464" y="807">概率累计</text><text x="1464" y="835">曲线位置</text>
</g>
</svg>
</body></html>
